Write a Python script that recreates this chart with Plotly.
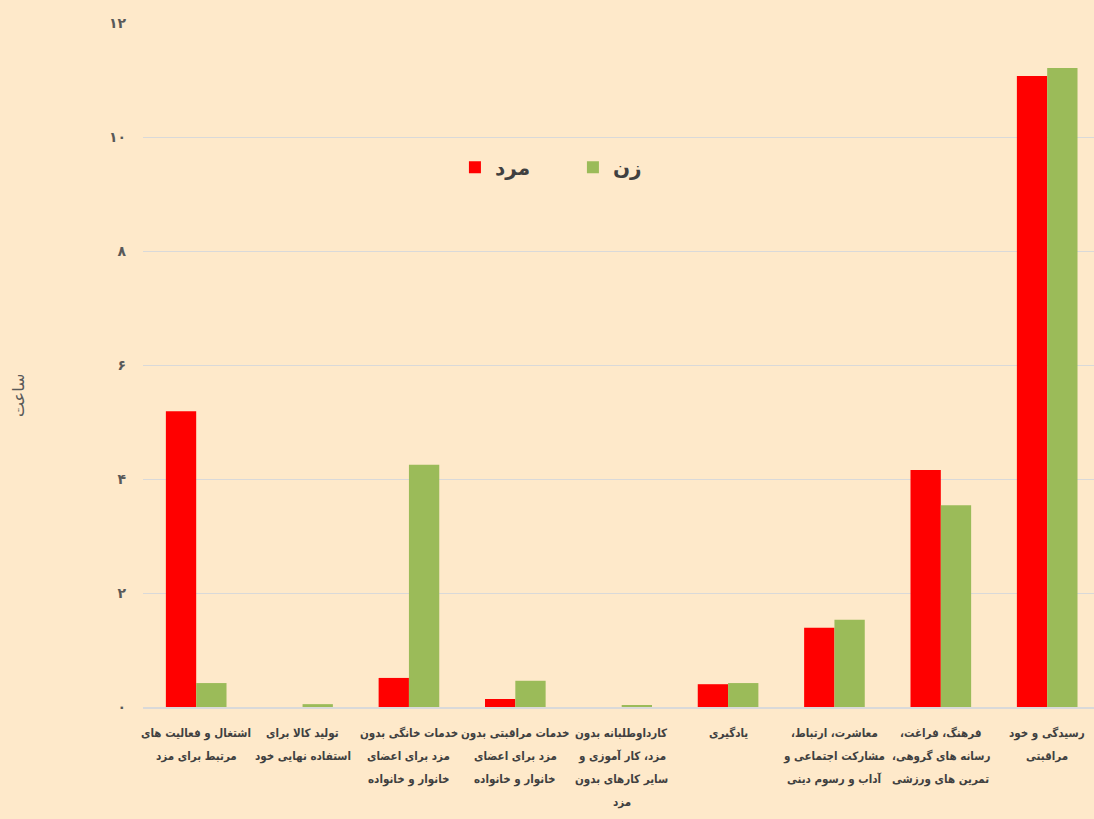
import plotly.graph_objects as go

categories = [
    "اشتغال و فعالیت های\nمرتبط برای مزد",
    "تولید کالا برای\nاستفاده نهایی خود",
    "خدمات خانگی بدون\nمزد برای اعضای\nخانوار و خانواده",
    "خدمات مراقبتی بدون\nمزد برای اعضای\nخانوار و خانواده",
    "کارداوطلبانه بدون\nمزد، کار آموزی و\nسایر کارهای بدون\nمزد",
    "یادگیری",
    "معاشرت، ارتباط،\nمشارکت اجتماعی و\nآداب و رسوم دینی",
    "فرهنگ، فراغت،\nرسانه های گروهی،\nتمرین های ورزشی",
    "رسیدگی و خود\nمراقبتی",
]
male = [5.19, 0.0, 0.51, 0.14, 0.0, 0.40, 1.39, 4.16, 11.07]
female = [0.42, 0.05, 4.25, 0.46, 0.02, 0.42, 1.53, 3.54, 11.21]
male_name = "مرد"
female_name = "زن"
tick_vals = [0, 2, 4, 6, 8, 10, 12]
tick_text = ["۰", "۲", "۴", "۶", "۸", "۱۰", "۱۲"]
y_title = "ساعت"

RLM = "\u200f"
bg = "#FEE9CA"
label_font = dict(size=11.5, family="DejaVu Sans Condensed", color="#404040", weight="bold")

xs = list(range(len(categories)))
fig = go.Figure()
fig.add_trace(go.Bar(x=xs, y=male, name=male_name,
                     marker=dict(color="#FF0000", line=dict(width=0))))
fig.add_trace(go.Bar(x=xs, y=female, name=female_name,
                     marker=dict(color="#9BBB59", line=dict(width=0))))

annotations = []
for i, cat in enumerate(categories):
    for j, line in enumerate(cat.split("\n")):
        annotations.append(dict(
            x=i, xref="x", y=0, yref="paper", yanchor="middle", xanchor="center",
            yshift=-(26 + 23 * j), showarrow=False,
            text=RLM + line + RLM, font=label_font))
annotations.append(dict(
    x=0, xref="paper", xshift=-125, y=0.456, yref="paper", xanchor="center", yanchor="middle",
    textangle=-90, showarrow=False, text=y_title,
    font=dict(size=16, family="DejaVu Sans", color="#595959")))

fig.update_layout(
    width=1094, height=819,
    paper_bgcolor=bg, plot_bgcolor=bg,
    margin=dict(l=143, r=0, t=23, b=112),
    barmode="group", bargap=0.43, bargroupgap=0,
    font=dict(family="DejaVu Sans", color="#404040"),
    annotations=annotations,
    legend=dict(orientation="h", x=0.328, y=0.789, xanchor="left", yanchor="middle",
                bgcolor="rgba(0,0,0,0)", entrywidth=73, entrywidthmode="pixels",
                font=dict(size=20, family="DejaVu Sans", color="#404040", weight="bold")),
    xaxis=dict(tickmode="array", tickvals=xs, showticklabels=False,
               range=[-0.5, 8.44], showgrid=False, zeroline=False,
               showline=True, linecolor="#D9D9D9", linewidth=2, ticks=""),
    yaxis=dict(range=[0, 12], tickmode="array", tickvals=tick_vals, ticktext=tick_text,
               showgrid=True, gridcolor="#D9D9D9", gridwidth=1, zeroline=False,
               showline=False, ticks="", ticklabelstandoff=16,
               tickfont=dict(size=14, family="DejaVu Sans", color="#595959", weight="bold")),
)
fig.write_html("out.html", config={"displayModeBar": False},
               post_script="document.body.style.margin='0';document.body.style.overflow='hidden';")
